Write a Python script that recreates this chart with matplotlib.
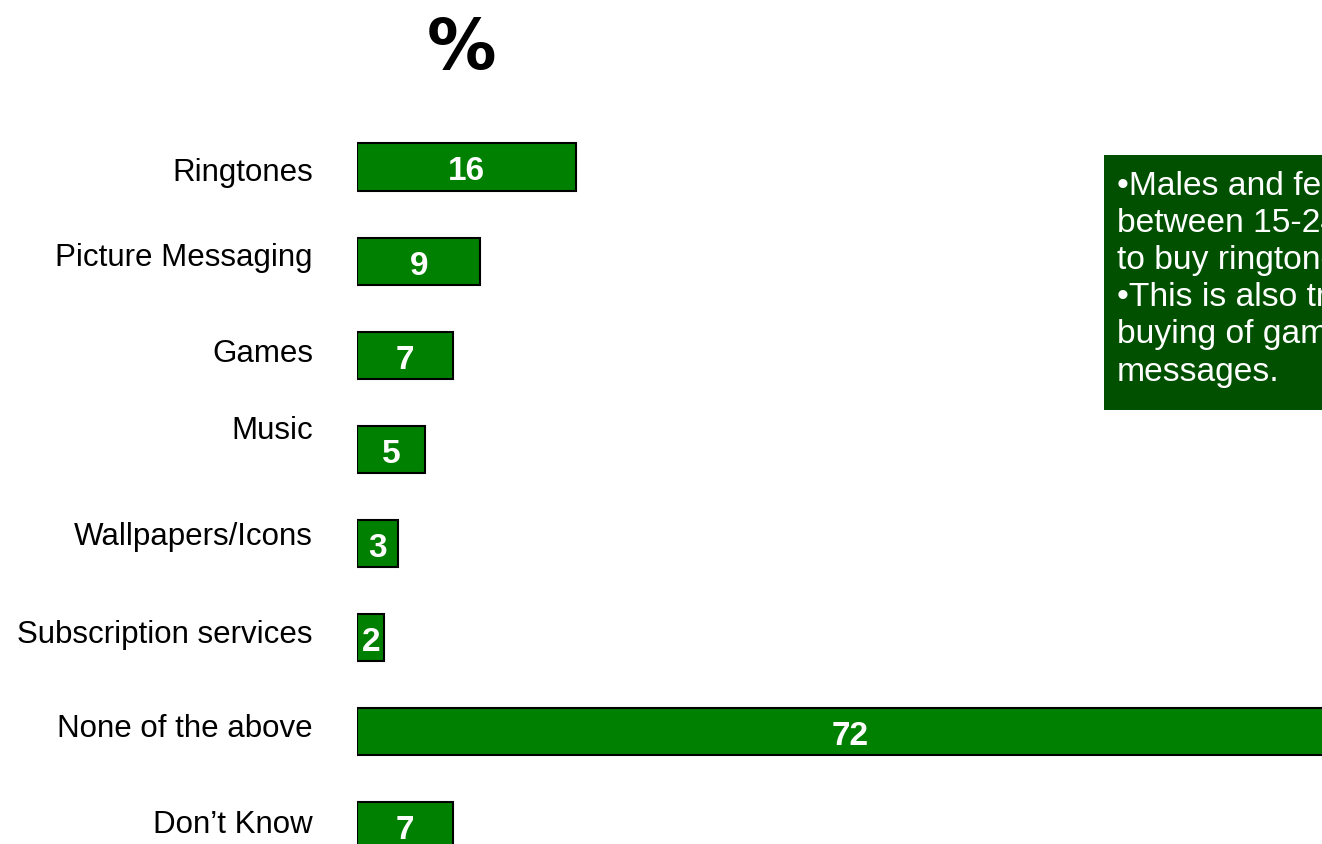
import matplotlib
matplotlib.use('Agg')
import matplotlib.pyplot as plt
from matplotlib.patches import Rectangle

# survey results, % of respondents
categories = ['Ringtones', 'Picture Messaging', 'Games', 'Music',
              'Wallpapers/Icons', 'Subscription services',
              'None of the above', 'Don\u2019t Know']
values = [16, 9, 7, 5, 3, 2, 72, 7]

note_lines = [
    '\u2022Males and females aged',
    'between 15-24 are most likely',
    'to buy ringtones.',
    '\u2022This is also true for the',
    'buying of games and picture',
    'messages.',
]

# vertical nudge of each category label, in pixels (positive = up)
label_nudge = [-6, 3, 1, 18, 7, 3, 3, 1]

plt.rcParams['font.family'] = ['Liberation Sans', 'DejaVu Sans']

W, H = 1322, 844
fig = plt.figure(figsize=(W / 100, H / 100), dpi=100)
fig.patch.set_facecolor('white')

# axes: x=0 sits at pixel 357, spans to the right edge; bars spaced ~94 px
x0 = 357
px_per_unit = 13.7
ax = fig.add_axes([x0 / W, 0, 1 - x0 / W, 1])
ax.set_xlim(0, (W - x0) / px_per_unit)
step = 94.14
ax.set_ylim((H - 167) / step, -167 / step)
ax.axis('off')

pos = list(range(len(categories)))
bars = ax.barh(pos, values, height=0.5, color='#008000',
               edgecolor='black', linewidth=1.5)

for bar, v in zip(bars, values):
    ax.annotate(str(v), xy=(bar.get_x() + bar.get_width() / 2,
                            bar.get_y() + bar.get_height() / 2),
                xytext=(0, -5), textcoords='offset pixels',
                ha='center', va='center', color='white',
                fontsize=24, fontweight='bold')

for i, (cat, nudge) in enumerate(zip(categories, label_nudge)):
    ax.annotate(cat, xy=(0, i), xytext=(-44, nudge), textcoords='offset pixels',
                ha='right', va='center', fontsize=22.5, color='black',
                annotation_clip=False)

fig.text(462 / W, 1 - 50 / H, '%', ha='center', va='center',
         fontsize=50, fontweight='bold', family='DejaVu Sans')

# note box on the right, running off the edge
fig.patches.append(Rectangle((1104 / W, 1 - 410 / H), 0.3, 255 / H,
                             transform=fig.transFigure, facecolor='#005000',
                             edgecolor='none', zorder=0))
fig.text(1117 / W, 1 - 171 / H, '\n'.join(note_lines), ha='left', va='top',
         color='white', fontsize=24.2, linespacing=1.255)

fig.savefig('out.png', dpi=100)
